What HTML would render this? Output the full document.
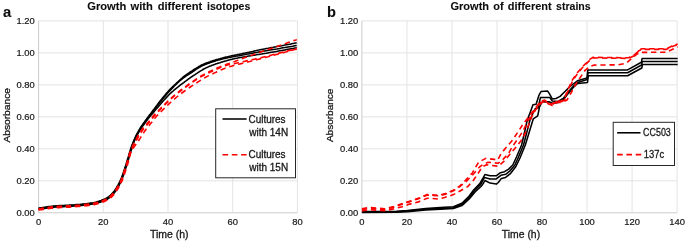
<!DOCTYPE html>
<html><head><meta charset="utf-8"><title>Growth curves</title>
<style>html,body{margin:0;padding:0;background:#fff;}body{width:685px;height:242px;overflow:hidden;position:relative;font-family:"Liberation Sans",sans-serif;}</style>
</head><body>
<svg width="685" height="242" viewBox="0 0 685 242" style="position:absolute;left:0;top:0;will-change:transform;font-family:'Liberation Sans',sans-serif;">
<style>text{stroke:#161616;stroke-width:0.28px;paint-order:stroke fill;}</style>
<rect width="685" height="242" fill="#fff"/>
<line x1="38.6" y1="212.80" x2="297.4" y2="212.80" stroke="#cccccc" stroke-width="1"/>
<line x1="38.6" y1="180.82" x2="297.4" y2="180.82" stroke="#e3e3e3" stroke-width="1"/>
<line x1="38.6" y1="148.83" x2="297.4" y2="148.83" stroke="#e3e3e3" stroke-width="1"/>
<line x1="38.6" y1="116.85" x2="297.4" y2="116.85" stroke="#e3e3e3" stroke-width="1"/>
<line x1="38.6" y1="84.87" x2="297.4" y2="84.87" stroke="#e3e3e3" stroke-width="1"/>
<line x1="38.6" y1="52.88" x2="297.4" y2="52.88" stroke="#e3e3e3" stroke-width="1"/>
<line x1="38.6" y1="20.90" x2="297.4" y2="20.90" stroke="#e3e3e3" stroke-width="1"/>
<line x1="38.60" y1="20.9" x2="38.60" y2="212.8" stroke="#cccccc" stroke-width="1"/>
<line x1="103.30" y1="20.9" x2="103.30" y2="212.8" stroke="#e3e3e3" stroke-width="1"/>
<line x1="168.00" y1="20.9" x2="168.00" y2="212.8" stroke="#e3e3e3" stroke-width="1"/>
<line x1="232.70" y1="20.9" x2="232.70" y2="212.8" stroke="#e3e3e3" stroke-width="1"/>
<line x1="297.40" y1="20.9" x2="297.40" y2="212.8" stroke="#e3e3e3" stroke-width="1"/>
<line x1="361.9" y1="212.80" x2="677.1" y2="212.80" stroke="#cccccc" stroke-width="1"/>
<line x1="361.9" y1="180.82" x2="677.1" y2="180.82" stroke="#e3e3e3" stroke-width="1"/>
<line x1="361.9" y1="148.83" x2="677.1" y2="148.83" stroke="#e3e3e3" stroke-width="1"/>
<line x1="361.9" y1="116.85" x2="677.1" y2="116.85" stroke="#e3e3e3" stroke-width="1"/>
<line x1="361.9" y1="84.87" x2="677.1" y2="84.87" stroke="#e3e3e3" stroke-width="1"/>
<line x1="361.9" y1="52.88" x2="677.1" y2="52.88" stroke="#e3e3e3" stroke-width="1"/>
<line x1="361.9" y1="20.90" x2="677.1" y2="20.90" stroke="#e3e3e3" stroke-width="1"/>
<line x1="361.90" y1="20.9" x2="361.90" y2="212.8" stroke="#cccccc" stroke-width="1"/>
<line x1="406.93" y1="20.9" x2="406.93" y2="212.8" stroke="#e3e3e3" stroke-width="1"/>
<line x1="451.96" y1="20.9" x2="451.96" y2="212.8" stroke="#e3e3e3" stroke-width="1"/>
<line x1="496.99" y1="20.9" x2="496.99" y2="212.8" stroke="#e3e3e3" stroke-width="1"/>
<line x1="542.01" y1="20.9" x2="542.01" y2="212.8" stroke="#e3e3e3" stroke-width="1"/>
<line x1="587.04" y1="20.9" x2="587.04" y2="212.8" stroke="#e3e3e3" stroke-width="1"/>
<line x1="632.07" y1="20.9" x2="632.07" y2="212.8" stroke="#e3e3e3" stroke-width="1"/>
<line x1="677.10" y1="20.9" x2="677.10" y2="212.8" stroke="#e3e3e3" stroke-width="1"/>
<path d="M38.6,208.1 L39.4,208.0 L40.4,207.8 L41.5,207.7 L42.8,207.5 L44.2,207.3 L45.7,207.1 L47.2,206.8 L48.8,206.6 L50.4,206.4 L52.0,206.2 L53.5,206.0 L55.0,205.9 L56.4,205.8 L57.9,205.7 L59.4,205.6 L60.8,205.5 L62.3,205.4 L63.8,205.4 L65.3,205.3 L66.9,205.3 L68.4,205.2 L69.9,205.1 L71.5,205.0 L73.0,204.9 L74.6,204.8 L76.2,204.6 L77.9,204.5 L79.5,204.4 L81.2,204.2 L82.9,204.0 L84.6,203.9 L86.2,203.7 L87.8,203.5 L89.3,203.3 L90.7,203.1 L92.0,202.9 L93.2,202.7 L94.4,202.4 L95.5,202.2 L96.5,201.9 L97.5,201.6 L98.5,201.3 L99.4,201.0 L100.2,200.7 L101.1,200.4 L101.9,200.1 L102.6,199.8 L103.4,199.5 L104.1,199.2 L104.8,198.9 L105.4,198.6 L106.0,198.4 L106.5,198.1 L107.0,197.8 L107.5,197.5 L108.0,197.2 L108.5,196.8 L108.9,196.5 L109.4,196.1 L109.9,195.7 L110.4,195.3 L110.9,194.8 L111.4,194.3 L111.8,193.9 L112.3,193.4 L112.7,192.8 L113.2,192.3 L113.6,191.7 L114.1,191.2 L114.5,190.6 L115.0,189.9 L115.4,189.3 L115.8,188.6 L116.3,187.9 L116.7,187.2 L117.2,186.5 L117.6,185.7 L118.1,184.9 L118.5,184.1 L118.9,183.3 L119.3,182.5 L119.7,181.7 L120.1,180.9 L120.5,180.1 L120.9,179.3 L121.2,178.5 L121.5,177.7 L121.8,176.9 L122.1,176.1 L122.4,175.3 L122.7,174.5 L123.0,173.7 L123.2,172.9 L123.5,172.0 L123.8,171.2 L124.1,170.3 L124.4,169.4 L124.7,168.5 L125.0,167.6 L125.3,166.6 L125.6,165.7 L125.9,164.7 L126.2,163.8 L126.5,162.8 L126.8,161.8 L127.0,160.9 L127.3,160.0 L127.6,159.1 L127.9,158.2 L128.1,157.4 L128.4,156.5 L128.6,155.7 L128.9,154.8 L129.1,154.0 L129.3,153.2 L129.6,152.3 L129.8,151.5 L130.1,150.7 L130.3,149.9 L130.6,149.1 L130.9,148.3 L131.1,147.5 L131.4,146.7 L131.7,146.0 L131.9,145.2 L132.2,144.4 L132.5,143.7 L132.8,142.9 L133.1,142.2 L133.4,141.4 L133.8,140.6 L134.1,139.8 L134.5,139.0 L134.8,138.2 L135.2,137.4 L135.6,136.5 L136.0,135.7 L136.4,134.9 L136.8,134.1 L137.3,133.2 L137.7,132.4 L138.2,131.6 L138.6,130.7 L139.1,129.9 L139.6,129.1 L140.1,128.2 L140.7,127.3 L141.3,126.4 L141.9,125.5 L142.5,124.7 L143.1,123.8 L143.7,123.0 L144.3,122.2 L144.8,121.4 L145.3,120.7 L145.8,120.0 L146.2,119.4 L146.5,119.0 L146.7,118.7 L146.9,118.4 L147.1,118.2 L147.3,118.0 L147.5,117.7 L147.7,117.4 L148.1,116.9 L148.6,116.3 L149.1,115.6 L149.9,114.6 L150.8,113.4 L151.9,111.9 L153.1,110.3 L154.4,108.6 L155.8,106.7 L157.3,104.8 L158.8,102.8 L160.3,100.8 L161.8,98.9 L163.3,97.1 L164.7,95.4 L166.0,93.8 L167.3,92.4 L168.5,91.0 L169.8,89.6 L171.1,88.3 L172.3,87.1 L173.6,85.8 L174.8,84.7 L176.0,83.6 L177.1,82.5 L178.2,81.5 L179.3,80.5 L180.3,79.6 L181.2,78.8 L182.1,78.0 L182.9,77.3 L183.6,76.7 L184.3,76.2 L185.0,75.7 L185.7,75.2 L186.4,74.7 L187.1,74.2 L187.8,73.7 L188.6,73.2 L189.4,72.6 L190.3,72.0 L191.2,71.4 L192.1,70.8 L193.1,70.1 L194.0,69.5 L195.0,68.9 L196.0,68.3 L197.0,67.7 L198.0,67.1 L198.9,66.5 L199.9,66.0 L200.8,65.5 L201.7,65.0 L202.6,64.6 L203.5,64.2 L204.3,63.8 L205.2,63.5 L206.1,63.1 L206.9,62.8 L207.8,62.5 L208.6,62.2 L209.5,61.9 L210.3,61.6 L211.2,61.3 L212.1,61.0 L212.9,60.7 L213.8,60.4 L214.6,60.2 L215.4,59.9 L216.3,59.6 L217.1,59.4 L218.0,59.2 L218.9,58.9 L219.7,58.7 L220.6,58.4 L221.5,58.2 L222.4,58.0 L223.3,57.7 L224.2,57.5 L225.1,57.3 L226.0,57.1 L226.9,56.9 L227.8,56.7 L228.7,56.5 L229.7,56.3 L230.7,56.1 L231.7,55.8 L232.8,55.6 L233.9,55.4 L235.1,55.1 L236.3,54.9 L237.6,54.6 L238.8,54.4 L240.1,54.1 L241.4,53.9 L242.7,53.6 L244.0,53.3 L245.2,53.1 L246.4,52.8 L247.6,52.6 L248.7,52.4 L249.7,52.1 L250.7,51.9 L251.6,51.7 L252.6,51.5 L253.5,51.2 L254.4,51.0 L255.4,50.8 L256.4,50.6 L257.5,50.3 L258.7,50.1 L260.0,49.8 L261.4,49.5 L262.9,49.2 L264.5,48.9 L266.2,48.6 L268.0,48.3 L269.7,47.9 L271.5,47.6 L273.3,47.3 L275.1,46.9 L276.8,46.6 L278.4,46.3 L280.0,46.0 L281.6,45.7 L283.2,45.4 L284.8,45.1 L286.4,44.8 L288.0,44.5 L289.6,44.2 L291.1,43.9 L292.5,43.6 L293.8,43.4 L294.9,43.1 L295.9,43.0 L296.7,42.8" fill="none" stroke="#000" stroke-width="1.55" stroke-linejoin="round"/>
<path d="M38.6,208.6 L39.4,208.5 L40.4,208.3 L41.6,208.2 L42.9,208.0 L44.3,207.8 L45.8,207.6 L47.4,207.3 L49.0,207.1 L50.6,206.9 L52.2,206.7 L53.8,206.5 L55.3,206.4 L56.8,206.3 L58.2,206.2 L59.7,206.1 L61.2,206.0 L62.7,205.9 L64.2,205.9 L65.7,205.8 L67.2,205.8 L68.7,205.7 L70.2,205.6 L71.8,205.5 L73.3,205.4 L74.9,205.3 L76.5,205.1 L78.2,205.0 L79.8,204.9 L81.5,204.7 L83.2,204.5 L84.9,204.4 L86.5,204.2 L88.1,204.0 L89.6,203.8 L91.0,203.6 L92.3,203.4 L93.5,203.2 L94.7,202.9 L95.8,202.7 L96.8,202.4 L97.8,202.1 L98.8,201.8 L99.7,201.5 L100.5,201.2 L101.4,200.9 L102.2,200.6 L102.9,200.3 L103.7,200.0 L104.4,199.7 L105.1,199.4 L105.7,199.1 L106.3,198.9 L106.8,198.6 L107.3,198.3 L107.8,198.0 L108.3,197.7 L108.8,197.3 L109.2,197.0 L109.7,196.6 L110.2,196.2 L110.7,195.8 L111.2,195.3 L111.7,194.8 L112.1,194.4 L112.6,193.9 L113.0,193.3 L113.5,192.8 L113.9,192.2 L114.4,191.7 L114.8,191.1 L115.3,190.4 L115.7,189.8 L116.1,189.1 L116.6,188.4 L117.0,187.7 L117.5,187.0 L117.9,186.2 L118.4,185.4 L118.8,184.6 L119.2,183.8 L119.6,183.0 L120.0,182.2 L120.4,181.4 L120.8,180.6 L121.2,179.8 L121.5,179.0 L121.8,178.2 L122.1,177.4 L122.4,176.6 L122.7,175.8 L123.0,175.0 L123.3,174.2 L123.5,173.4 L123.8,172.5 L124.1,171.7 L124.4,170.8 L124.7,169.9 L125.0,169.0 L125.3,168.1 L125.6,167.1 L125.9,166.2 L126.2,165.2 L126.5,164.3 L126.8,163.3 L127.1,162.3 L127.3,161.4 L127.6,160.5 L127.9,159.6 L128.2,158.7 L128.4,157.9 L128.7,157.0 L128.9,156.2 L129.2,155.3 L129.4,154.5 L129.6,153.7 L129.9,152.9 L130.1,152.1 L130.4,151.2 L130.6,150.4 L130.9,149.6 L131.2,148.8 L131.4,148.0 L131.7,147.1 L132.0,146.3 L132.3,145.5 L132.6,144.7 L132.9,143.9 L133.2,143.1 L133.5,142.3 L133.8,141.4 L134.1,140.6 L134.5,139.8 L134.9,139.0 L135.2,138.2 L135.6,137.3 L136.0,136.5 L136.4,135.7 L136.9,134.9 L137.3,134.0 L137.7,133.2 L138.2,132.4 L138.6,131.6 L139.1,130.7 L139.6,129.9 L140.1,129.1 L140.7,128.2 L141.2,127.3 L141.8,126.4 L142.4,125.5 L143.1,124.7 L143.7,123.8 L144.3,123.0 L144.8,122.2 L145.4,121.4 L145.9,120.7 L146.4,120.0 L146.8,119.4 L147.1,119.0 L147.3,118.7 L147.5,118.4 L147.7,118.2 L147.9,118.0 L148.1,117.7 L148.4,117.4 L148.8,116.9 L149.2,116.3 L149.8,115.6 L150.6,114.6 L151.5,113.4 L152.6,112.0 L153.9,110.4 L155.2,108.6 L156.6,106.7 L158.1,104.8 L159.6,102.8 L161.2,100.9 L162.7,99.0 L164.2,97.2 L165.6,95.4 L166.9,93.9 L168.2,92.5 L169.5,91.1 L170.8,89.7 L172.0,88.4 L173.3,87.1 L174.6,85.8 L175.8,84.7 L177.0,83.5 L178.1,82.5 L179.2,81.4 L180.3,80.5 L181.3,79.6 L182.2,78.8 L183.1,78.1 L183.9,77.5 L184.6,77.0 L185.4,76.5 L186.0,76.0 L186.7,75.6 L187.4,75.2 L188.1,74.8 L188.8,74.4 L189.5,73.9 L190.3,73.4 L191.1,72.8 L192.0,72.3 L192.8,71.7 L193.7,71.1 L194.6,70.4 L195.5,69.8 L196.4,69.2 L197.3,68.6 L198.1,68.1 L199.0,67.5 L199.9,67.0 L200.8,66.5 L201.7,66.1 L202.5,65.6 L203.4,65.2 L204.3,64.9 L205.1,64.5 L206.0,64.2 L206.9,63.8 L207.7,63.5 L208.6,63.2 L209.5,62.9 L210.3,62.6 L211.2,62.3 L212.1,62.0 L212.9,61.7 L213.8,61.4 L214.6,61.2 L215.4,60.9 L216.3,60.6 L217.1,60.4 L218.0,60.1 L218.9,59.9 L219.7,59.7 L220.6,59.4 L221.5,59.2 L222.4,59.0 L223.3,58.8 L224.2,58.6 L225.1,58.4 L226.0,58.2 L226.9,58.0 L227.8,57.8 L228.7,57.6 L229.7,57.4 L230.7,57.2 L231.7,57.0 L232.8,56.8 L233.9,56.6 L235.1,56.4 L236.3,56.1 L237.6,55.9 L238.8,55.7 L240.1,55.4 L241.4,55.2 L242.7,55.0 L244.0,54.8 L245.2,54.5 L246.4,54.3 L247.6,54.1 L248.7,53.9 L249.7,53.7 L250.7,53.5 L251.6,53.3 L252.6,53.2 L253.5,53.0 L254.4,52.8 L255.4,52.6 L256.4,52.4 L257.5,52.2 L258.7,52.0 L260.0,51.8 L261.4,51.6 L262.9,51.3 L264.5,51.0 L266.2,50.7 L268.0,50.4 L269.7,50.1 L271.5,49.8 L273.3,49.5 L275.1,49.2 L276.8,49.0 L278.4,48.7 L280.0,48.4 L281.6,48.1 L283.2,47.8 L284.8,47.6 L286.4,47.3 L288.0,47.0 L289.6,46.7 L291.1,46.4 L292.5,46.2 L293.8,45.9 L294.9,45.7 L295.9,45.5 L296.7,45.4" fill="none" stroke="#000" stroke-width="1.55" stroke-linejoin="round"/>
<path d="M38.6,209.3 L39.4,209.2 L40.4,209.0 L41.6,208.9 L43.0,208.7 L44.4,208.5 L46.0,208.3 L47.6,208.0 L49.2,207.8 L50.9,207.6 L52.5,207.4 L54.1,207.2 L55.6,207.1 L57.1,207.0 L58.5,206.9 L60.0,206.8 L61.5,206.7 L63.0,206.6 L64.5,206.6 L66.0,206.5 L67.5,206.5 L69.0,206.4 L70.5,206.3 L72.1,206.2 L73.6,206.1 L75.2,206.0 L76.8,205.8 L78.5,205.7 L80.1,205.6 L81.8,205.4 L83.5,205.3 L85.2,205.1 L86.8,204.9 L88.4,204.7 L89.9,204.5 L91.3,204.3 L92.6,204.1 L93.8,203.9 L95.0,203.6 L96.1,203.4 L97.1,203.1 L98.1,202.8 L99.1,202.5 L100.0,202.2 L100.8,201.9 L101.7,201.6 L102.5,201.3 L103.2,201.0 L104.0,200.7 L104.7,200.4 L105.4,200.1 L106.0,199.8 L106.6,199.6 L107.1,199.3 L107.6,199.0 L108.1,198.7 L108.6,198.4 L109.1,198.0 L109.5,197.7 L110.0,197.3 L110.5,196.9 L111.0,196.5 L111.5,196.0 L112.0,195.5 L112.4,195.1 L112.9,194.6 L113.3,194.0 L113.8,193.5 L114.2,192.9 L114.7,192.4 L115.1,191.8 L115.6,191.1 L116.0,190.5 L116.4,189.8 L116.9,189.1 L117.3,188.4 L117.8,187.7 L118.2,186.9 L118.7,186.1 L119.1,185.3 L119.5,184.5 L119.9,183.7 L120.3,182.9 L120.7,182.1 L121.1,181.3 L121.5,180.5 L121.8,179.7 L122.1,178.9 L122.4,178.1 L122.7,177.3 L123.0,176.5 L123.3,175.7 L123.6,174.9 L123.8,174.1 L124.1,173.2 L124.4,172.4 L124.7,171.5 L125.0,170.6 L125.3,169.7 L125.6,168.8 L125.9,167.8 L126.2,166.9 L126.5,165.9 L126.8,165.0 L127.1,164.0 L127.4,163.0 L127.6,162.1 L127.9,161.2 L128.2,160.3 L128.5,159.4 L128.7,158.6 L129.0,157.7 L129.2,156.9 L129.4,156.1 L129.7,155.3 L129.9,154.4 L130.2,153.6 L130.4,152.8 L130.7,152.0 L130.9,151.1 L131.2,150.3 L131.5,149.4 L131.8,148.6 L132.0,147.7 L132.3,146.8 L132.6,145.9 L132.9,145.0 L133.2,144.2 L133.5,143.3 L133.8,142.4 L134.2,141.5 L134.5,140.7 L134.9,139.8 L135.3,139.0 L135.7,138.1 L136.1,137.3 L136.5,136.5 L136.9,135.6 L137.3,134.8 L137.8,134.0 L138.2,133.2 L138.7,132.4 L139.2,131.5 L139.7,130.7 L140.2,129.9 L140.7,129.1 L141.3,128.2 L141.9,127.3 L142.5,126.4 L143.1,125.5 L143.8,124.7 L144.4,123.8 L145.0,123.0 L145.6,122.2 L146.2,121.4 L146.7,120.7 L147.2,120.0 L147.6,119.4 L147.9,119.0 L148.2,118.7 L148.3,118.4 L148.5,118.2 L148.7,118.0 L148.9,117.7 L149.2,117.4 L149.6,116.9 L150.1,116.3 L150.8,115.6 L151.6,114.6 L152.6,113.4 L153.9,111.9 L155.2,110.3 L156.7,108.6 L158.3,106.7 L160.0,104.7 L161.7,102.8 L163.4,100.8 L165.1,98.9 L166.8,97.1 L168.5,95.3 L170.0,93.8 L171.5,92.4 L173.1,91.0 L174.6,89.6 L176.2,88.3 L177.8,87.1 L179.3,85.9 L180.8,84.7 L182.3,83.6 L183.7,82.6 L185.0,81.6 L186.3,80.7 L187.4,79.8 L188.4,79.0 L189.3,78.4 L190.1,77.8 L190.8,77.3 L191.4,76.9 L192.0,76.5 L192.6,76.1 L193.1,75.7 L193.7,75.4 L194.3,75.0 L195.0,74.6 L195.7,74.1 L196.5,73.6 L197.3,73.1 L198.1,72.5 L199.0,72.0 L199.8,71.4 L200.7,70.9 L201.6,70.4 L202.5,69.8 L203.4,69.3 L204.3,68.8 L205.1,68.3 L206.0,67.9 L206.9,67.5 L207.7,67.1 L208.6,66.7 L209.4,66.3 L210.3,66.0 L211.2,65.7 L212.0,65.3 L212.9,65.0 L213.7,64.7 L214.6,64.4 L215.4,64.1 L216.3,63.8 L217.2,63.5 L218.0,63.2 L218.9,62.9 L219.8,62.7 L220.7,62.4 L221.6,62.1 L222.5,61.9 L223.3,61.6 L224.2,61.4 L225.0,61.1 L225.8,60.9 L226.6,60.7 L227.3,60.5 L228.0,60.3 L228.7,60.1 L229.4,59.9 L230.0,59.8 L230.6,59.6 L231.2,59.4 L231.9,59.3 L232.6,59.1 L233.3,59.0 L234.1,58.8 L234.9,58.6 L235.8,58.4 L236.8,58.2 L237.8,58.0 L238.8,57.8 L239.9,57.6 L241.0,57.5 L242.1,57.3 L243.2,57.1 L244.3,56.9 L245.4,56.7 L246.5,56.5 L247.6,56.3 L248.6,56.1 L249.6,56.0 L250.5,55.8 L251.5,55.6 L252.4,55.5 L253.3,55.3 L254.3,55.2 L255.3,55.0 L256.4,54.8 L257.5,54.6 L258.7,54.4 L260.0,54.2 L261.4,54.0 L262.9,53.7 L264.5,53.4 L266.2,53.2 L268.0,52.9 L269.7,52.6 L271.5,52.3 L273.3,52.0 L275.1,51.7 L276.8,51.4 L278.4,51.1 L280.0,50.8 L281.6,50.5 L283.2,50.2 L284.8,49.9 L286.4,49.6 L288.0,49.3 L289.6,49.0 L291.1,48.7 L292.5,48.4 L293.8,48.2 L294.9,47.9 L295.9,47.8 L296.7,47.6" fill="none" stroke="#000" stroke-width="1.55" stroke-linejoin="round"/>
<path d="M38.6,208.8 L39.4,208.7 L40.4,208.5 L41.6,208.4 L42.9,208.2 L44.3,208.0 L45.8,207.8 L47.3,207.5 L48.9,207.3 L50.6,207.1 L52.2,206.9 L53.7,206.7 L55.2,206.6 L56.6,206.5 L58.1,206.4 L59.6,206.3 L61.1,206.2 L62.6,206.1 L64.0,206.1 L65.6,206.0 L67.1,206.0 L68.6,205.9 L70.1,205.8 L71.7,205.7 L73.2,205.6 L74.8,205.5 L76.4,205.3 L78.1,205.2 L79.7,205.1 L81.4,204.9 L83.1,204.8 L84.8,204.6 L86.4,204.4 L88.0,204.2 L89.5,204.0 L90.9,203.8 L92.2,203.6 L93.4,203.4 L94.6,203.1 L95.7,202.9 L96.7,202.6 L97.7,202.3 L98.7,202.0 L99.6,201.7 L100.4,201.4 L101.3,201.1 L102.1,200.8 L102.8,200.5 L103.6,200.2 L104.3,199.9 L105.0,199.6 L105.6,199.3 L106.2,199.1 L106.7,198.8 L107.2,198.5 L107.7,198.2 L108.2,197.9 L108.7,197.5 L109.1,197.2 L109.6,196.8 L110.1,196.4 L110.6,196.0 L111.1,195.5 L111.6,195.0 L112.0,194.6 L112.5,194.1 L112.9,193.5 L113.4,193.0 L113.8,192.4 L114.3,191.9 L114.7,191.3 L115.2,190.6 L115.6,190.0 L116.0,189.3 L116.5,188.6 L116.9,187.9 L117.4,187.2 L117.8,186.4 L118.3,185.6 L118.7,184.8 L119.1,184.0 L119.5,183.2 L119.9,182.4 L120.3,181.6 L120.7,180.8 L121.1,180.0 L121.4,179.2 L121.7,178.4 L122.0,177.6 L122.3,176.8 L122.6,176.0 L122.9,175.2 L123.2,174.4 L123.4,173.6 L123.7,172.7 L124.0,171.9 L124.3,171.0 L124.6,170.1 L124.9,169.2 L125.2,168.3 L125.5,167.3 L125.8,166.4 L126.1,165.4 L126.4,164.5 L126.7,163.5 L127.0,162.5 L127.2,161.6 L127.5,160.7 L127.8,159.8 L128.1,158.9 L128.3,158.1 L128.5,157.2 L128.8,156.4 L129.0,155.5 L129.2,154.7 L129.4,153.9 L129.7,153.1 L129.9,152.3 L130.2,151.5 L130.5,150.6 L130.8,149.8 L131.1,149.0 L131.5,148.1 L131.9,147.3 L132.3,146.5 L132.7,145.6 L133.1,144.8 L133.6,144.0 L134.0,143.1 L134.4,142.3 L134.9,141.5 L135.3,140.6 L135.8,139.8 L136.2,139.0 L136.7,138.1 L137.1,137.3 L137.6,136.5 L138.0,135.7 L138.5,134.8 L138.9,134.0 L139.4,133.2 L139.9,132.4 L140.5,131.5 L141.0,130.7 L141.6,129.9 L142.2,129.1 L142.9,128.2 L143.7,127.3 L144.4,126.4 L145.2,125.6 L146.0,124.7 L146.8,123.8 L147.5,123.0 L148.3,122.2 L149.0,121.4 L149.6,120.7 L150.2,120.0 L150.7,119.4 L151.0,119.0 L151.3,118.6 L151.4,118.3 L151.6,118.1 L151.8,117.8 L152.0,117.5 L152.2,117.1 L152.6,116.7 L153.1,116.1 L153.7,115.4 L154.6,114.5 L155.7,113.4 L156.9,112.1 L158.2,110.7 L159.7,109.2 L161.3,107.6 L163.0,105.9 L164.7,104.2 L166.4,102.5 L168.2,100.8 L170.0,99.1 L171.8,97.5 L173.5,96.0 L175.3,94.5 L177.1,93.0 L179.1,91.5 L181.0,90.0 L183.0,88.5 L185.0,87.0 L187.0,85.6 L188.9,84.2 L190.7,82.9 L192.5,81.7 L194.1,80.6 L195.5,79.6 L196.8,78.7 L197.9,78.0 L198.9,77.3 L199.9,76.7 L200.7,76.2 L201.5,75.8 L202.2,75.4 L202.9,75.0 L203.7,74.6 L204.4,74.2 L205.2,73.8 L206.0,73.4 L206.9,72.9 L207.7,72.5 L208.6,72.0 L209.4,71.6 L210.3,71.2 L211.2,70.8 L212.0,70.4 L212.9,70.0 L213.7,69.6 L214.6,69.2 L215.4,68.8 L216.3,68.4 L217.2,68.0 L218.1,67.6 L219.0,67.3 L219.9,66.9 L220.8,66.5 L221.7,66.2 L222.6,65.8 L223.5,65.5 L224.3,65.2 L225.1,64.9 L225.9,64.6 L226.6,64.3 L227.2,64.1 L227.8,63.9 L228.2,63.7 L228.7,63.6 L229.0,63.5 L229.4,63.3 L229.8,63.2 L230.2,63.1 L230.7,62.9 L231.3,62.7 L232.0,62.5 L232.8,62.2 L233.7,61.9 L234.8,61.5 L236.0,61.0 L237.2,60.6 L238.5,60.1 L239.8,59.6 L241.2,59.1 L242.5,58.6 L243.9,58.1 L245.2,57.6 L246.4,57.1 L247.6,56.7 L248.7,56.3 L249.7,55.9 L250.7,55.6 L251.6,55.2 L252.6,54.9 L253.5,54.6 L254.4,54.3 L255.4,53.9 L256.4,53.6 L257.5,53.2 L258.7,52.8 L260.0,52.3 L261.4,51.8 L262.9,51.3 L264.5,50.7 L266.2,50.1 L268.0,49.5 L269.7,48.9 L271.5,48.3 L273.3,47.7 L275.1,47.1 L276.8,46.5 L278.4,45.9 L280.0,45.4 L281.6,44.9 L283.2,44.3 L284.8,43.7 L286.4,43.2 L288.0,42.6 L289.6,42.1 L291.1,41.5 L292.5,41.1 L293.8,40.6 L294.9,40.2 L295.9,39.9 L296.7,39.6" fill="none" stroke="#ff0000" stroke-width="1.6" stroke-dasharray="5.3 3.8" stroke-linejoin="round"/>
<path d="M38.6,209.4 L39.4,209.3 L40.4,209.1 L41.6,209.0 L43.0,208.8 L44.4,208.6 L46.0,208.4 L47.6,208.1 L49.2,207.9 L50.9,207.7 L52.5,207.5 L54.1,207.3 L55.6,207.2 L57.1,207.1 L58.5,207.0 L60.0,206.9 L61.5,206.8 L63.0,206.7 L64.5,206.7 L66.0,206.6 L67.5,206.6 L69.0,206.5 L70.5,206.4 L72.1,206.3 L73.6,206.2 L75.2,206.1 L76.8,205.9 L78.5,205.8 L80.1,205.7 L81.8,205.5 L83.5,205.4 L85.2,205.2 L86.8,205.0 L88.4,204.8 L89.9,204.6 L91.3,204.4 L92.6,204.2 L93.8,204.0 L95.0,203.7 L96.1,203.5 L97.1,203.2 L98.1,202.9 L99.1,202.6 L100.0,202.3 L100.8,202.0 L101.7,201.7 L102.5,201.4 L103.2,201.1 L104.0,200.8 L104.7,200.5 L105.4,200.2 L106.0,199.9 L106.6,199.7 L107.1,199.4 L107.6,199.1 L108.1,198.8 L108.6,198.5 L109.1,198.1 L109.5,197.8 L110.0,197.4 L110.5,197.0 L111.0,196.6 L111.5,196.1 L112.0,195.6 L112.4,195.2 L112.9,194.7 L113.3,194.1 L113.8,193.6 L114.2,193.0 L114.7,192.5 L115.1,191.9 L115.6,191.2 L116.0,190.6 L116.4,189.9 L116.9,189.2 L117.3,188.5 L117.8,187.8 L118.2,187.0 L118.7,186.2 L119.1,185.4 L119.5,184.6 L119.9,183.8 L120.3,183.0 L120.7,182.2 L121.1,181.4 L121.5,180.6 L121.8,179.8 L122.1,179.0 L122.4,178.2 L122.7,177.4 L123.0,176.6 L123.3,175.8 L123.6,175.0 L123.8,174.2 L124.1,173.3 L124.4,172.5 L124.7,171.6 L125.0,170.7 L125.3,169.8 L125.6,168.9 L125.9,167.9 L126.2,167.0 L126.5,166.0 L126.8,165.1 L127.1,164.1 L127.4,163.1 L127.6,162.2 L127.9,161.3 L128.2,160.4 L128.5,159.5 L128.7,158.7 L128.9,157.8 L129.1,157.0 L129.4,156.2 L129.6,155.4 L129.8,154.5 L130.0,153.7 L130.3,152.9 L130.6,152.1 L130.9,151.3 L131.2,150.4 L131.6,149.5 L132.0,148.7 L132.4,147.8 L132.9,146.9 L133.3,146.0 L133.8,145.1 L134.3,144.2 L134.8,143.3 L135.3,142.4 L135.8,141.5 L136.3,140.7 L136.8,139.8 L137.3,139.0 L137.7,138.1 L138.2,137.3 L138.7,136.4 L139.1,135.6 L139.6,134.8 L140.1,134.0 L140.6,133.2 L141.1,132.4 L141.7,131.5 L142.2,130.7 L142.8,129.9 L143.4,129.1 L144.1,128.2 L144.8,127.3 L145.6,126.4 L146.4,125.6 L147.2,124.7 L147.9,123.8 L148.7,123.0 L149.4,122.2 L150.1,121.4 L150.7,120.7 L151.3,120.0 L151.8,119.4 L152.1,119.0 L152.3,118.6 L152.5,118.3 L152.7,118.1 L152.8,117.8 L153.0,117.5 L153.3,117.1 L153.6,116.7 L154.1,116.1 L154.8,115.4 L155.6,114.5 L156.6,113.4 L157.8,112.1 L159.2,110.7 L160.6,109.2 L162.2,107.6 L163.8,105.9 L165.5,104.2 L167.3,102.5 L169.1,100.8 L170.8,99.1 L172.6,97.5 L174.3,96.0 L176.1,94.5 L177.9,93.0 L179.8,91.5 L181.8,90.0 L183.8,88.5 L185.8,87.0 L187.8,85.6 L189.7,84.2 L191.6,82.9 L193.3,81.7 L194.9,80.6 L196.3,79.6 L197.6,78.8 L198.7,78.0 L199.7,77.4 L200.6,76.9 L201.4,76.5 L202.1,76.1 L202.9,75.7 L203.5,75.4 L204.2,75.1 L204.9,74.8 L205.7,74.4 L206.5,74.0 L207.3,73.6 L208.2,73.1 L209.0,72.7 L209.9,72.3 L210.7,71.9 L211.6,71.5 L212.4,71.1 L213.2,70.7 L214.1,70.3 L214.9,69.9 L215.8,69.6 L216.6,69.2 L217.5,68.8 L218.3,68.5 L219.2,68.1 L220.1,67.7 L221.1,67.3 L222.0,67.0 L222.8,66.6 L223.7,66.3 L224.5,66.0 L225.3,65.7 L226.1,65.4 L226.8,65.2 L227.4,65.0 L227.9,64.9 L228.4,64.8 L228.8,64.7 L229.2,64.6 L229.5,64.6 L229.9,64.5 L230.3,64.5 L230.8,64.4 L231.3,64.3 L232.0,64.2 L232.8,64.0 L233.7,63.8 L234.8,63.6 L235.9,63.3 L237.2,63.0 L238.5,62.7 L239.8,62.4 L241.2,62.1 L242.5,61.8 L243.9,61.5 L245.2,61.2 L246.4,60.9 L247.6,60.6 L248.7,60.4 L249.7,60.1 L250.7,59.9 L251.6,59.7 L252.6,59.5 L253.5,59.4 L254.4,59.2 L255.4,58.9 L256.4,58.7 L257.5,58.5 L258.7,58.2 L260.0,57.9 L261.4,57.6 L262.9,57.2 L264.5,56.8 L266.2,56.4 L268.0,55.9 L269.7,55.5 L271.5,55.1 L273.3,54.6 L275.1,54.2 L276.8,53.7 L278.4,53.3 L280.0,52.9 L281.6,52.5 L283.2,52.1 L284.8,51.7 L286.4,51.3 L288.0,50.8 L289.6,50.4 L291.1,50.1 L292.5,49.7 L293.8,49.4 L294.9,49.1 L295.9,48.8 L296.7,48.6" fill="none" stroke="#ff0000" stroke-width="1.6" stroke-dasharray="5.3 3.8" stroke-linejoin="round"/>
<path d="M38.6,210.0 L39.4,209.9 L40.5,209.7 L41.7,209.6 L43.1,209.4 L44.6,209.2 L46.2,209.0 L47.8,208.7 L49.5,208.5 L51.2,208.3 L52.9,208.1 L54.5,207.9 L56.0,207.8 L57.5,207.7 L59.0,207.6 L60.4,207.5 L61.9,207.4 L63.4,207.3 L64.9,207.3 L66.4,207.2 L67.9,207.2 L69.4,207.1 L70.9,207.0 L72.5,206.9 L74.0,206.8 L75.6,206.7 L77.2,206.5 L78.9,206.4 L80.5,206.3 L82.2,206.1 L83.9,206.0 L85.6,205.8 L87.2,205.6 L88.8,205.4 L90.3,205.2 L91.7,205.0 L93.0,204.8 L94.2,204.6 L95.4,204.3 L96.5,204.1 L97.5,203.8 L98.5,203.5 L99.5,203.2 L100.4,202.9 L101.2,202.6 L102.1,202.3 L102.9,202.0 L103.6,201.7 L104.4,201.4 L105.1,201.1 L105.8,200.8 L106.4,200.5 L107.0,200.3 L107.5,200.0 L108.0,199.7 L108.5,199.4 L109.0,199.1 L109.5,198.7 L109.9,198.4 L110.4,198.0 L110.9,197.6 L111.4,197.2 L111.9,196.7 L112.4,196.2 L112.8,195.8 L113.3,195.3 L113.7,194.7 L114.2,194.2 L114.6,193.6 L115.1,193.1 L115.5,192.5 L116.0,191.8 L116.4,191.2 L116.8,190.5 L117.3,189.8 L117.7,189.1 L118.2,188.4 L118.6,187.6 L119.1,186.8 L119.5,186.0 L119.9,185.2 L120.3,184.4 L120.7,183.6 L121.1,182.8 L121.5,182.0 L121.9,181.2 L122.2,180.4 L122.5,179.6 L122.8,178.8 L123.1,178.0 L123.4,177.2 L123.7,176.4 L124.0,175.6 L124.2,174.8 L124.5,173.9 L124.8,173.1 L125.1,172.2 L125.4,171.3 L125.7,170.4 L126.0,169.5 L126.3,168.5 L126.6,167.6 L126.9,166.6 L127.2,165.7 L127.5,164.7 L127.8,163.7 L128.0,162.8 L128.3,161.9 L128.6,161.0 L128.9,160.1 L129.1,159.3 L129.3,158.4 L129.5,157.6 L129.7,156.8 L129.8,156.0 L130.0,155.2 L130.3,154.4 L130.5,153.6 L130.8,152.7 L131.2,151.9 L131.6,151.0 L132.1,150.1 L132.6,149.2 L133.2,148.3 L133.8,147.3 L134.5,146.4 L135.2,145.4 L135.9,144.4 L136.6,143.5 L137.3,142.5 L137.9,141.6 L138.6,140.7 L139.2,139.8 L139.8,138.9 L140.3,138.1 L140.8,137.2 L141.4,136.4 L141.9,135.6 L142.4,134.8 L142.9,134.0 L143.4,133.2 L143.9,132.3 L144.5,131.5 L145.0,130.7 L145.6,129.9 L146.2,129.1 L146.9,128.2 L147.6,127.3 L148.3,126.4 L149.0,125.6 L149.7,124.7 L150.4,123.8 L151.1,123.0 L151.8,122.2 L152.4,121.4 L153.0,120.7 L153.6,120.0 L154.1,119.4 L154.4,119.0 L154.6,118.6 L154.8,118.3 L155.0,118.1 L155.2,117.8 L155.4,117.5 L155.7,117.1 L156.1,116.7 L156.6,116.1 L157.3,115.4 L158.2,114.5 L159.3,113.4 L160.6,112.1 L162.0,110.7 L163.5,109.2 L165.2,107.6 L166.9,105.9 L168.7,104.2 L170.5,102.5 L172.4,100.8 L174.3,99.1 L176.2,97.5 L178.0,96.0 L179.9,94.5 L181.9,93.0 L183.9,91.5 L186.0,90.0 L188.2,88.5 L190.3,87.0 L192.4,85.6 L194.5,84.3 L196.5,83.0 L198.4,81.7 L200.1,80.6 L201.7,79.6 L203.1,78.7 L204.5,77.9 L205.7,77.2 L206.8,76.6 L207.8,76.1 L208.8,75.6 L209.7,75.2 L210.6,74.8 L211.5,74.4 L212.4,74.0 L213.3,73.5 L214.2,73.1 L215.1,72.6 L216.1,72.2 L217.0,71.7 L217.9,71.3 L218.8,70.9 L219.7,70.5 L220.5,70.1 L221.4,69.7 L222.2,69.4 L223.0,69.0 L223.8,68.7 L224.6,68.4 L225.3,68.1 L226.0,67.9 L226.7,67.6 L227.3,67.4 L227.8,67.2 L228.4,67.0 L229.0,66.9 L229.7,66.7 L230.3,66.5 L231.1,66.3 L231.9,66.1 L232.8,65.8 L233.8,65.5 L234.9,65.2 L236.1,64.9 L237.3,64.6 L238.6,64.3 L239.9,63.9 L241.3,63.6 L242.6,63.3 L243.9,62.9 L245.2,62.6 L246.4,62.3 L247.6,62.0 L248.7,61.7 L249.7,61.5 L250.7,61.2 L251.6,61.0 L252.6,60.8 L253.5,60.5 L254.4,60.3 L255.4,60.1 L256.4,59.8 L257.5,59.5 L258.7,59.2 L260.0,58.9 L261.4,58.5 L262.9,58.1 L264.5,57.7 L266.2,57.2 L268.0,56.8 L269.7,56.3 L271.5,55.8 L273.3,55.3 L275.1,54.8 L276.8,54.4 L278.4,53.9 L280.0,53.5 L281.6,53.1 L283.2,52.6 L284.8,52.2 L286.4,51.8 L288.0,51.3 L289.6,50.9 L291.1,50.5 L292.5,50.1 L293.8,49.8 L294.9,49.5 L295.9,49.2 L296.7,49.0" fill="none" stroke="#ff0000" stroke-width="1.6" stroke-dasharray="5.35 3.85" stroke-linejoin="round"/>
<clipPath id="cr"><rect x="361.9" y="0" width="315.20000000000005" height="242"/></clipPath>
<path d="M361.9,211.6 L396.5,211.3 L407.4,210.5 L425.7,208.4 L440.3,207.6 L453.4,206.8 L461.9,203.2 L469.2,196.0 L473.6,190.0 L479.8,183.6 L483.4,177.4 L484.9,174.5 L490.1,175.8 L496.3,175.8 L500.4,172.7 L504.5,171.7 L508.7,169.1 L512.8,165.0 L516.5,157.0 L521.6,145.0 L527.3,120.0 L531.1,110.0 L533.0,104.8 L536.1,104.3 L538.9,95.4 L541.0,91.5 L547.7,91.1 L549.8,94.4 L552.3,99.0 L556.0,98.5 L560.1,96.4 L564.2,92.3 L570.4,86.1 L574.5,83.0 L577.4,80.8 L587.0,77.9 L587.8,69.9 L627.6,69.9 L641.4,62.3 L642.1,58.4 L677.7,58.4" fill="none" stroke="#000" stroke-width="1.55" stroke-linejoin="round"/>
<path d="M361.9,212.0 L396.5,211.8 L407.4,211.1 L425.7,209.2 L440.3,208.4 L453.4,207.7 L461.9,204.4 L469.2,197.5 L474.2,191.0 L480.2,185.0 L483.2,180.0 L484.4,177.4 L490.1,178.9 L496.3,178.9 L500.9,175.3 L505.6,174.3 L509.7,171.2 L514.9,165.0 L518.5,157.0 L523.5,145.0 L530.0,120.0 L533.5,112.0 L535.5,108.5 L538.0,108.0 L540.5,97.5 L549.8,97.5 L552.3,101.1 L558.0,101.5 L563.2,98.5 L568.3,92.0 L573.5,86.0 L577.6,82.5 L587.2,79.5 L588.0,72.8 L627.6,72.8 L641.6,65.0 L642.3,61.4 L677.7,61.4" fill="none" stroke="#000" stroke-width="1.55" stroke-linejoin="round"/>
<path d="M361.9,212.4 L396.5,212.3 L407.4,211.7 L425.7,210.0 L440.3,209.2 L453.4,208.6 L461.9,205.6 L469.2,199.0 L475.0,192.0 L481.0,186.5 L483.6,183.0 L484.9,180.5 L490.1,183.1 L496.3,184.1 L498.3,182.5 L501.4,178.4 L505.6,177.4 L510.7,173.3 L515.9,166.5 L520.0,158.0 L525.3,145.0 L533.3,118.8 L537.7,115.8 L539.5,107.0 L542.0,102.0 L549.0,101.8 L553.0,103.5 L558.0,102.6 L563.2,100.0 L568.3,93.4 L573.5,87.2 L577.6,83.5 L582.8,83.0 L587.5,82.5 L588.3,75.7 L627.6,75.7 L641.8,68.0 L642.5,64.4 L677.7,64.4" fill="none" stroke="#000" stroke-width="1.55" stroke-linejoin="round"/>
<path d="M361.9,208.8 L369.5,207.3 L384.8,208.8 L393.6,206.6 L402.3,203.6 L409.6,201.2 L418.4,198.2 L427.2,194.6 L438.8,195.3 L444.7,193.9 L453.4,190.2 L460.0,185.8 L465.3,180.5 L472.5,172.7 L478.6,162.2 L485.8,158.4 L494.0,159.4 L497.7,160.0 L501.2,153.4 L506.8,146.7 L512.6,140.0 L523.8,123.1 L529.6,115.8 L536.4,106.8 L540.5,101.6 L544.6,100.1 L547.7,102.6 L551.8,104.2 L556.0,101.1 L561.1,101.1 L564.2,99.5 L566.3,93.4 L570.4,84.1 L572.5,79.8 L576.7,73.6 L581.8,67.4 L586.0,63.3 L590.1,59.1 L593.2,57.3 L628.4,57.8 L633.6,55.5 L637.2,52.4 L638.2,50.3 L641.8,48.8 L666.6,48.8 L672.8,45.7 L677.7,44.1" fill="none" stroke="#ff0000" stroke-width="1.6" stroke-dasharray="5.3 3.8" stroke-linejoin="round"/>
<path d="M361.9,209.8 L369.5,208.3 L384.8,209.6 L393.6,207.3 L402.3,204.2 L409.6,201.7 L418.4,198.7 L427.2,195.1 L438.8,195.8 L444.7,194.4 L453.4,190.8 L460.0,186.5 L466.0,181.6 L473.5,174.0 L479.5,167.0 L483.8,164.0 L488.2,162.2 L498.4,163.2 L503.5,158.9 L508.8,153.0 L512.6,146.2 L518.5,138.0 L523.0,131.0 L526.8,123.0 L530.5,116.3 L537.0,107.3 L541.0,102.1 L544.8,100.7 L548.0,103.2 L552.0,104.8 L556.3,101.7 L561.4,101.7 L564.6,100.0 L566.8,93.8 L570.9,84.5 L573.0,80.3 L577.1,74.2 L582.1,68.0 L586.2,63.9 L590.3,59.7 L593.3,57.9 L628.4,58.4 L633.6,56.1 L637.3,53.0 L638.4,50.9 L641.8,49.4 L666.6,49.4 L672.8,46.3 L677.7,44.7" fill="none" stroke="#ff0000" stroke-width="1.6" stroke-dasharray="5.35 3.85" stroke-linejoin="round"/>
<path d="M361.9,211.0 L369.5,209.6 L384.8,210.7 L393.6,208.9 L402.3,206.7 L409.6,204.1 L418.4,201.9 L427.2,198.2 L438.8,199.0 L444.7,197.5 L453.4,194.6 L460.0,191.0 L467.7,186.6 L473.6,180.0 L478.0,173.5 L482.3,166.9 L486.7,164.7 L491.1,165.4 L498.4,166.2 L505.0,160.3 L511.5,152.3 L516.7,146.2 L522.0,139.5 L526.3,131.0 L529.3,123.0 L532.3,115.5 L535.5,110.0 L537.8,107.5 L541.5,102.8 L545.0,101.5 L548.5,104.0 L552.5,105.5 L557.0,102.5 L562.0,102.3 L567.0,100.0 L571.0,93.0 L575.0,85.5 L578.7,79.8 L584.9,70.5 L590.1,66.4 L594.2,65.1 L618.0,64.8 L626.4,63.2 L631.5,58.6 L637.2,53.9 L640.8,52.4 L666.6,52.2 L673.8,48.8 L677.7,46.7" fill="none" stroke="#ff0000" stroke-width="1.6" stroke-dasharray="5.3 3.8" stroke-linejoin="round"/>
<text x="34.8" y="216.1" font-size="9.4" fill="#161616" style="stroke-width:0.2px" text-anchor="end">0.00</text>
<text x="34.8" y="184.1" font-size="9.4" fill="#161616" style="stroke-width:0.2px" text-anchor="end">0.20</text>
<text x="34.8" y="152.1" font-size="9.4" fill="#161616" style="stroke-width:0.2px" text-anchor="end">0.40</text>
<text x="34.8" y="120.2" font-size="9.4" fill="#161616" style="stroke-width:0.2px" text-anchor="end">0.60</text>
<text x="34.8" y="88.2" font-size="9.4" fill="#161616" style="stroke-width:0.2px" text-anchor="end">0.80</text>
<text x="34.8" y="56.2" font-size="9.4" fill="#161616" style="stroke-width:0.2px" text-anchor="end">1.00</text>
<text x="34.8" y="24.2" font-size="9.4" fill="#161616" style="stroke-width:0.2px" text-anchor="end">1.20</text>
<text x="358.2" y="216.1" font-size="9.4" fill="#161616" style="stroke-width:0.2px" text-anchor="end">0.00</text>
<text x="358.2" y="184.1" font-size="9.4" fill="#161616" style="stroke-width:0.2px" text-anchor="end">0.20</text>
<text x="358.2" y="152.1" font-size="9.4" fill="#161616" style="stroke-width:0.2px" text-anchor="end">0.40</text>
<text x="358.2" y="120.2" font-size="9.4" fill="#161616" style="stroke-width:0.2px" text-anchor="end">0.60</text>
<text x="358.2" y="88.2" font-size="9.4" fill="#161616" style="stroke-width:0.2px" text-anchor="end">0.80</text>
<text x="358.2" y="56.2" font-size="9.4" fill="#161616" style="stroke-width:0.2px" text-anchor="end">1.00</text>
<text x="358.2" y="24.2" font-size="9.4" fill="#161616" style="stroke-width:0.2px" text-anchor="end">1.20</text>
<text x="38.6" y="225" font-size="9.4" fill="#161616" style="stroke-width:0.2px" text-anchor="middle">0</text>
<text x="103.3" y="225" font-size="9.4" fill="#161616" style="stroke-width:0.2px" text-anchor="middle">20</text>
<text x="168.0" y="225" font-size="9.4" fill="#161616" style="stroke-width:0.2px" text-anchor="middle">40</text>
<text x="232.7" y="225" font-size="9.4" fill="#161616" style="stroke-width:0.2px" text-anchor="middle">60</text>
<text x="297.4" y="225" font-size="9.4" fill="#161616" style="stroke-width:0.2px" text-anchor="middle">80</text>
<text x="361.9" y="225" font-size="9.4" fill="#161616" style="stroke-width:0.2px" text-anchor="middle">0</text>
<text x="406.9" y="225" font-size="9.4" fill="#161616" style="stroke-width:0.2px" text-anchor="middle">20</text>
<text x="452.0" y="225" font-size="9.4" fill="#161616" style="stroke-width:0.2px" text-anchor="middle">40</text>
<text x="497.0" y="225" font-size="9.4" fill="#161616" style="stroke-width:0.2px" text-anchor="middle">60</text>
<text x="542.0" y="225" font-size="9.4" fill="#161616" style="stroke-width:0.2px" text-anchor="middle">80</text>
<text x="587.0" y="225" font-size="9.4" fill="#161616" style="stroke-width:0.2px" text-anchor="middle">100</text>
<text x="632.1" y="225" font-size="9.4" fill="#161616" style="stroke-width:0.2px" text-anchor="middle">120</text>
<text x="677.1" y="225" font-size="9.4" fill="#161616" style="stroke-width:0.2px" text-anchor="middle">140</text>
<text x="87.2" y="10.25" font-size="10.7" font-weight="bold" fill="#0d0d0d" style="stroke-width:0.1px" textLength="39.1" lengthAdjust="spacingAndGlyphs">Growth</text>
<text x="130.6" y="10.25" font-size="10.7" font-weight="bold" fill="#0d0d0d" style="stroke-width:0.1px" textLength="22.3" lengthAdjust="spacingAndGlyphs">with</text>
<text x="157.7" y="10.25" font-size="10.7" font-weight="bold" fill="#0d0d0d" style="stroke-width:0.1px" textLength="44.5" lengthAdjust="spacingAndGlyphs">different</text>
<text x="207.0" y="10.25" font-size="10.7" font-weight="bold" fill="#0d0d0d" style="stroke-width:0.1px" textLength="43.3" lengthAdjust="spacingAndGlyphs">isotopes</text>
<text x="450.5" y="10.25" font-size="10.7" font-weight="bold" fill="#0d0d0d" style="stroke-width:0.1px" textLength="38.6" lengthAdjust="spacingAndGlyphs">Growth</text>
<text x="493.3" y="10.25" font-size="10.7" font-weight="bold" fill="#0d0d0d" style="stroke-width:0.1px" textLength="10.3" lengthAdjust="spacingAndGlyphs">of</text>
<text x="507.8" y="10.25" font-size="10.7" font-weight="bold" fill="#0d0d0d" style="stroke-width:0.1px" textLength="43.9" lengthAdjust="spacingAndGlyphs">different</text>
<text x="556.1" y="10.25" font-size="10.7" font-weight="bold" fill="#0d0d0d" style="stroke-width:0.1px" textLength="34.6" lengthAdjust="spacingAndGlyphs">strains</text>
<text x="3.0" y="16.9" font-size="14.8" font-weight="bold" fill="#0d0d0d" style="stroke-width:0.1px">a</text>
<text x="327.0" y="16.9" font-size="14.6" font-weight="bold" fill="#0d0d0d" style="stroke-width:0.1px">b</text>
<text x="149.9" y="238.1" font-size="10" fill="#161616" textLength="38.7" lengthAdjust="spacingAndGlyphs">Time (h)</text>
<text x="501.8" y="238.1" font-size="10" fill="#161616" textLength="38.3" lengthAdjust="spacingAndGlyphs">Time (h)</text>
<text transform="translate(9.6,142.6) rotate(-90)" font-size="9.7" fill="#161616" textLength="54.6" lengthAdjust="spacingAndGlyphs">Absorbance</text>
<text transform="translate(332.9,142.1) rotate(-90)" font-size="9.7" fill="#161616" textLength="53.5" lengthAdjust="spacingAndGlyphs">Absorbance</text>
<rect x="215.7" y="108.8" width="79.8" height="69" fill="#fff" stroke="#262626" stroke-width="1"/>
<line x1="222.5" y1="119" x2="246.6" y2="119" stroke="#000" stroke-width="1.55"/>
<text x="248.5" y="122.9" font-size="10" fill="#161616" textLength="37.1" lengthAdjust="spacingAndGlyphs">Cultures</text>
<text x="249.2" y="135.7" font-size="10" fill="#161616" textLength="39" lengthAdjust="spacingAndGlyphs">with 14N</text>
<line x1="222.5" y1="154.8" x2="246.6" y2="154.8" stroke="#ff0000" stroke-width="1.6" stroke-dasharray="5.6 3.7"/>
<text x="248.5" y="158.1" font-size="10" fill="#161616" textLength="37.1" lengthAdjust="spacingAndGlyphs">Cultures</text>
<text x="249.2" y="171" font-size="10" fill="#161616" textLength="39" lengthAdjust="spacingAndGlyphs">with 15N</text>
<rect x="613.2" y="122.3" width="61.3" height="43.2" fill="#fff" stroke="#262626" stroke-width="1"/>
<line x1="617.1" y1="132.8" x2="640.5" y2="132.8" stroke="#000" stroke-width="1.55"/>
<text x="643.1" y="136.2" font-size="10" fill="#161616" textLength="27.7" lengthAdjust="spacingAndGlyphs">CC503</text>
<line x1="617.1" y1="154.6" x2="641.2" y2="154.6" stroke="#ff0000" stroke-width="1.6" stroke-dasharray="5.6 3.7"/>
<text x="643.7" y="157.8" font-size="10" fill="#161616" textLength="20.4" lengthAdjust="spacingAndGlyphs">137c</text>
</svg>
</body></html>
